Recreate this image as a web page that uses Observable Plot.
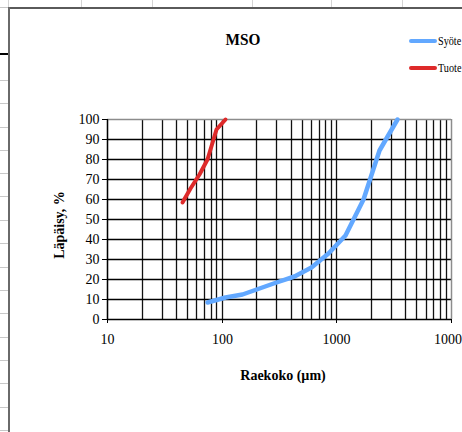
<!DOCTYPE html>
<html>
<head>
<meta charset="utf-8">
<script src="https://cdn.jsdelivr.net/npm/d3@7"></script>
<script src="https://cdn.jsdelivr.net/npm/@observablehq/plot@0.6"></script>
<style>
  body { margin: 0; background: #fff; }
  #sheet {
    position: relative; width: 462px; height: 432px; overflow: hidden;
    background: #fff; font-family: "Liberation Serif", "Times New Roman", serif; color: #000;
  }
  #sheet svg { position: absolute; left: 0; top: 0; }
  .cell-v { position: absolute; top: 0; height: 7px; width: 1px; background: #d4d4d4; }
  .cell-h { position: absolute; left: 0; width: 8px; height: 1px; background: #c8c8c8; }
  .frame-top { position: absolute; left: 8px; top: 7px; right: 0; height: 2px; background: #5a5a5a; }
  .frame-left { position: absolute; left: 8px; top: 7px; bottom: 0; width: 2px; background: #6a6a6a; }
  .title { position: absolute; left: 243px; top: 40px; transform: translate(-50%, -50%) scaleX(0.9); font-weight: bold; font-size: 17px; }
  .ytitle { position: absolute; left: 60px; top: 225px; transform: translate(-50%, -50%) rotate(-90deg); font-weight: bold; font-size: 14px; white-space: nowrap; }
  .xtitle { position: absolute; left: 283px; top: 376px; transform: translate(-50%, -50%); font-weight: bold; font-size: 14px; white-space: nowrap; }
  .key { position: absolute; left: 409px; width: 28px; height: 4px; border-radius: 2px; }
  .key-label { position: absolute; left: 438px; font-size: 12px; transform: translateY(-50%) scaleX(0.85); transform-origin: left center; white-space: nowrap; }
</style>
</head>
<body>
<div id="sheet"></div>
<script>
// Particle size distributions (sieve size in µm, cumulative passing %)
const seriesNames = ["Syöte", "Tuote"];
const seriesColors = ["#62a8ff", "#de2a2a"];

const syoteSize = [75, 106, 150, 212, 300, 425, 600, 850, 1180, 1700, 2360, 3350];
const syotePass = [8.7, 11, 12.6, 15.3, 18.3, 21.5, 26, 33, 42, 60, 84.5, 100];

const tuoteSize = [45, 53, 63, 75, 90, 106];
const tuotePass = [58.5, 65.5, 72.5, 80, 95, 100];

const xTickValues = [10, 100, 1000, 10000];
const yTickValues = [0, 10, 20, 30, 40, 50, 60, 70, 80, 90, 100];

const chartTitle = "MSO";
const xTitle = "Raekoko (µm)";
const yTitle = "Läpäisy, %";

// Worksheet cell borders visible around the embedded chart
const sheetColumns = [8, 81, 152, 252, 331, 402];
const sheetRows = [7, 80, 103, 127, 150, 173, 196, 220, 243, 267, 290, 313, 337, 360, 383, 407, 430];
const sheetThickRow = 53;

const syote = syoteSize.map((s, i) => ({size: s, pass: syotePass[i]}));
const tuote = tuoteSize.map((s, i) => ({size: s, pass: tuotePass[i]}));

// Log-scale grid: every integer multiple within each decade
const gridX = [];
for (const d of [10, 100, 1000]) for (let k = 1; k < 10; k++) gridX.push(d * k);

const sheet = document.getElementById("sheet");

for (const x of sheetColumns) {
  const el = document.createElement("div");
  el.className = "cell-v"; el.style.left = x + "px"; sheet.appendChild(el);
}
for (const y of sheetRows) {
  const el = document.createElement("div");
  el.className = "cell-h"; el.style.top = y + "px"; sheet.appendChild(el);
}
{
  const el = document.createElement("div");
  el.className = "cell-h"; el.style.top = sheetThickRow + "px"; el.style.height = "2px"; el.style.background = "#000";
  sheet.appendChild(el);
}

const chart = Plot.plot({
  width: 462,
  height: 432,
  marginLeft: 107,
  marginRight: 11,
  marginTop: 119,
  marginBottom: 113,
  style: {fontFamily: "Liberation Serif, Times New Roman, serif", fontSize: "14px", background: "transparent", color: "#000"},
  x: {type: "log", domain: [10, 10000], round: true},
  y: {domain: [0, 100], round: true},
  marks: [
    Plot.ruleX(gridX, {stroke: "#111", strokeWidth: 1.3}),
    Plot.ruleY(yTickValues.filter(v => v > 0 && v < 100), {stroke: "#000", strokeWidth: 1.5}),
    Plot.ruleY([100], {stroke: "#8c8c8c", strokeWidth: 1.5}),
    Plot.ruleX([10000], {stroke: "#8c8c8c", strokeWidth: 1.5}),
    Plot.axisY({ticks: yTickValues, tickSize: 5, tickPadding: 3, label: null, tickFormat: d => String(d)}),
    Plot.axisX({ticks: xTickValues, tickSize: 4, tickPadding: 11, label: null, tickFormat: d => String(d)}),
    Plot.ruleX([10], {stroke: "#000", strokeWidth: 1.3}),
    Plot.ruleY([0], {stroke: "#000", strokeWidth: 1.5}),
    Plot.line(syote, {x: "size", y: "pass", stroke: seriesColors[0], strokeWidth: 4.5, strokeLinejoin: "round", strokeLinecap: "round"}),
    Plot.line(tuote, {x: "size", y: "pass", stroke: seriesColors[1], strokeWidth: 4, strokeLinejoin: "round", strokeLinecap: "round"})
  ]
});
sheet.appendChild(chart);

// Chart frame, titles and legend
for (const cls of ["frame-top", "frame-left"]) {
  const el = document.createElement("div"); el.className = cls; sheet.appendChild(el);
}
function addText(cls, text, top) {
  const el = document.createElement("div");
  el.className = cls; el.textContent = text;
  if (top != null) el.style.top = top + "px";
  sheet.appendChild(el);
  return el;
}
addText("title", chartTitle);
addText("ytitle", yTitle);
addText("xtitle", xTitle);

const legendRows = [41, 68];
seriesNames.forEach((name, i) => {
  const sw = document.createElement("div");
  sw.className = "key"; sw.style.top = (legendRows[i] - 2) + "px"; sw.style.background = seriesColors[i];
  sheet.appendChild(sw);
  addText("key-label", name, legendRows[i]);
});
</script>
</body>
</html>
